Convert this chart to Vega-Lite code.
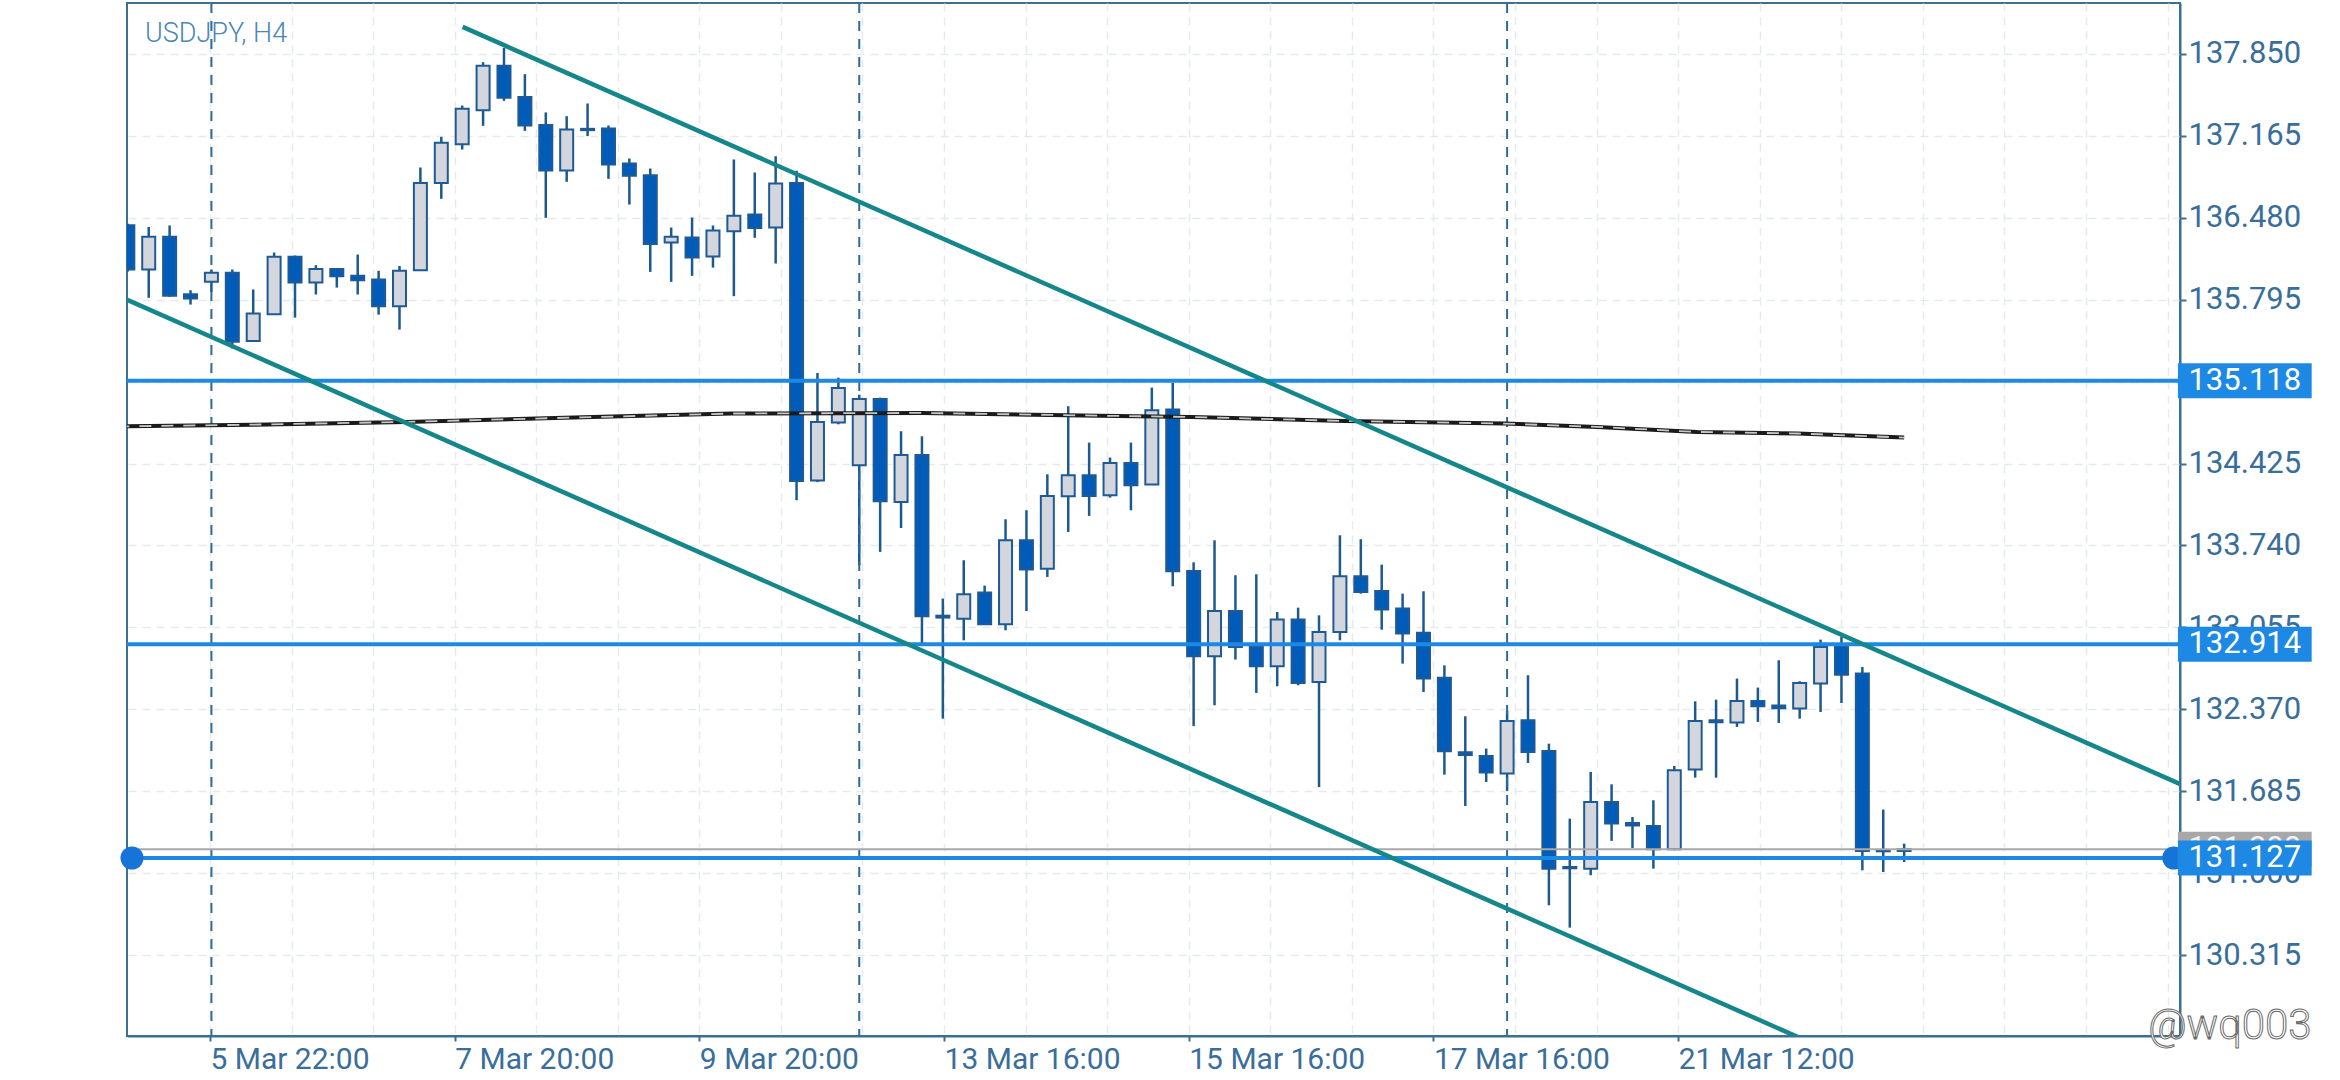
{
  "$schema": "https://vega.github.io/schema/vega-lite/v6.json",
  "width": 2053,
  "height": 1033,
  "autosize": {"type": "none"},
  "padding": {"left": 127, "top": 3, "right": 160, "bottom": 44},
  "background": "white",
  "datasets": {
    "candles": [
      {"i":0,"open":136.417,"high":136.43,"low":136.03,"close":136.047},
      {"i":1,"open":136.047,"high":136.403,"low":135.81,"close":136.32},
      {"i":2,"open":136.32,"high":136.415,"low":135.818,"close":135.827},
      {"i":3,"open":135.84,"high":135.874,"low":135.754,"close":135.804},
      {"i":4,"open":135.944,"high":136.047,"low":135.86,"close":136.019},
      {"i":5,"open":136.019,"high":136.047,"low":135.386,"close":135.442},
      {"i":6,"open":135.45,"high":135.88,"low":135.445,"close":135.679},
      {"i":7,"open":135.673,"high":136.189,"low":135.67,"close":136.153},
      {"i":8,"open":136.153,"high":136.164,"low":135.645,"close":135.938},
      {"i":9,"open":135.938,"high":136.083,"low":135.838,"close":136.052},
      {"i":10,"open":136.052,"high":136.055,"low":135.896,"close":135.991},
      {"i":11,"open":135.994,"high":136.172,"low":135.838,"close":135.957},
      {"i":12,"open":135.963,"high":136.036,"low":135.67,"close":135.74},
      {"i":13,"open":135.74,"high":136.077,"low":135.545,"close":136.036},
      {"i":14,"open":136.041,"high":136.9,"low":136.035,"close":136.771},
      {"i":15,"open":136.771,"high":137.156,"low":136.638,"close":137.106},
      {"i":16,"open":137.095,"high":137.418,"low":137.05,"close":137.39},
      {"i":17,"open":137.379,"high":137.78,"low":137.248,"close":137.75},
      {"i":18,"open":137.75,"high":137.9,"low":137.457,"close":137.482},
      {"i":19,"open":137.49,"high":137.68,"low":137.206,"close":137.251},
      {"i":20,"open":137.256,"high":137.36,"low":136.479,"close":136.875},
      {"i":21,"open":136.875,"high":137.329,"low":136.78,"close":137.217},
      {"i":22,"open":137.223,"high":137.435,"low":137.162,"close":137.212},
      {"i":23,"open":137.226,"high":137.251,"low":136.805,"close":136.925},
      {"i":24,"open":136.933,"high":136.975,"low":136.59,"close":136.83},
      {"i":25,"open":136.836,"high":136.891,"low":136.027,"close":136.261},
      {"i":26,"open":136.273,"high":136.398,"low":135.944,"close":136.32},
      {"i":27,"open":136.314,"high":136.482,"low":135.994,"close":136.147},
      {"i":28,"open":136.156,"high":136.415,"low":136.063,"close":136.373},
      {"i":29,"open":136.367,"high":136.967,"low":135.824,"close":136.496},
      {"i":30,"open":136.507,"high":136.858,"low":136.312,"close":136.395},
      {"i":31,"open":136.398,"high":136.994,"low":136.097,"close":136.766},
      {"i":32,"open":136.771,"high":136.872,"low":134.118,"close":134.279},
      {"i":33,"open":134.282,"high":135.182,"low":134.27,"close":134.773},
      {"i":34,"open":134.767,"high":135.143,"low":134.753,"close":135.057},
      {"i":35,"open":134.41,"high":135.0,"low":133.574,"close":134.965},
      {"i":36,"open":134.965,"high":134.976,"low":133.686,"close":134.109},
      {"i":37,"open":134.104,"high":134.695,"low":133.886,"close":134.497},
      {"i":38,"open":134.497,"high":134.653,"low":132.919,"close":133.148},
      {"i":39,"open":133.153,"high":133.296,"low":132.292,"close":133.137},
      {"i":40,"open":133.128,"high":133.616,"low":132.947,"close":133.332},
      {"i":41,"open":133.346,"high":133.404,"low":133.075,"close":133.081},
      {"i":42,"open":133.081,"high":133.959,"low":133.031,"close":133.783},
      {"i":43,"open":133.783,"high":134.034,"low":133.192,"close":133.538},
      {"i":44,"open":133.546,"high":134.335,"low":133.477,"close":134.154},
      {"i":45,"open":134.151,"high":134.904,"low":133.853,"close":134.327},
      {"i":46,"open":134.327,"high":134.6,"low":133.987,"close":134.154},
      {"i":47,"open":134.16,"high":134.475,"low":134.14,"close":134.43},
      {"i":48,"open":134.43,"high":134.6,"low":134.034,"close":134.243},
      {"i":49,"open":134.249,"high":135.06,"low":134.245,"close":134.87},
      {"i":50,"open":134.876,"high":135.099,"low":133.399,"close":133.524},
      {"i":51,"open":133.527,"high":133.599,"low":132.23,"close":132.813},
      {"i":52,"open":132.813,"high":133.783,"low":132.404,"close":133.192},
      {"i":53,"open":133.192,"high":133.491,"low":132.786,"close":132.891},
      {"i":54,"open":132.891,"high":133.499,"low":132.507,"close":132.73},
      {"i":55,"open":132.73,"high":133.184,"low":132.563,"close":133.12},
      {"i":56,"open":133.12,"high":133.22,"low":132.571,"close":132.591},
      {"i":57,"open":132.599,"high":133.156,"low":131.72,"close":133.017},
      {"i":58,"open":133.017,"high":133.825,"low":132.947,"close":133.482},
      {"i":59,"open":133.482,"high":133.792,"low":133.337,"close":133.351},
      {"i":60,"open":133.36,"high":133.58,"low":133.036,"close":133.204},
      {"i":61,"open":133.212,"high":133.337,"low":132.752,"close":133.003},
      {"i":62,"open":133.011,"high":133.357,"low":132.515,"close":132.627},
      {"i":63,"open":132.635,"high":132.738,"low":131.824,"close":132.019},
      {"i":64,"open":132.011,"high":132.312,"low":131.562,"close":131.989},
      {"i":65,"open":131.98,"high":132.042,"low":131.763,"close":131.841},
      {"i":66,"open":131.833,"high":132.357,"low":131.688,"close":132.273},
      {"i":67,"open":132.279,"high":132.655,"low":131.922,"close":132.014},
      {"i":68,"open":132.022,"high":132.083,"low":130.732,"close":131.038},
      {"i":69,"open":131.052,"high":131.456,"low":130.545,"close":131.041},
      {"i":70,"open":131.038,"high":131.847,"low":130.983,"close":131.596},
      {"i":71,"open":131.596,"high":131.743,"low":131.27,"close":131.415},
      {"i":72,"open":131.42,"high":131.47,"low":131.211,"close":131.398},
      {"i":73,"open":131.395,"high":131.61,"low":131.038,"close":131.2},
      {"i":74,"open":131.2,"high":131.897,"low":131.192,"close":131.861},
      {"i":75,"open":131.866,"high":132.437,"low":131.799,"close":132.273},
      {"i":76,"open":132.279,"high":132.451,"low":131.799,"close":132.262},
      {"i":77,"open":132.259,"high":132.627,"low":132.223,"close":132.44},
      {"i":78,"open":132.44,"high":132.552,"low":132.265,"close":132.396},
      {"i":79,"open":132.401,"high":132.78,"low":132.256,"close":132.379},
      {"i":80,"open":132.376,"high":132.605,"low":132.292,"close":132.591},
      {"i":81,"open":132.585,"high":132.953,"low":132.348,"close":132.892},
      {"i":82,"open":132.897,"high":132.975,"low":132.423,"close":132.66},
      {"i":83,"open":132.669,"high":132.724,"low":131.024,"close":131.186},
      {"i":84,"open":131.194,"high":131.532,"low":131.01,"close":131.183},
      {"i":85,"open":131.186,"high":131.247,"low":131.094,"close":131.2}
    ],
    "ma": [
      {"i":-0.5,"v":134.735},
      {"i":6,"v":134.75},
      {"i":13.3,"v":134.773},
      {"i":22.7,"v":134.815},
      {"i":28.9,"v":134.843},
      {"i":38,"v":134.848},
      {"i":46.5,"v":134.825},
      {"i":50.9,"v":134.814},
      {"i":58.2,"v":134.781},
      {"i":65.9,"v":134.759},
      {"i":70.3,"v":134.731},
      {"i":75.1,"v":134.689},
      {"i":79.9,"v":134.676},
      {"i":85,"v":134.642}
    ],
    "trend": [
      {"g":"upper","i":16.02,"v":138.075},
      {"g":"upper","i":98.6,"v":131.715},
      {"g":"lower","i":-0.6,"v":135.838},
      {"g":"lower","i":81,"v":129.547}
    ],
    "seps": [{"i":4},{"i":35},{"i":66}],
    "levels": [{"p":135.118},{"p":132.914},{"p":131.127}],
    "current": [{"p":131.2}],
    "handles": [{"i":0.2},{"i":97.9}]
  },
  "layer": [
    {
      "data": {"name": "candles"},
      "mark": {"type": "rule", "stroke": "#1c5a8e", "strokeWidth": 2.5, "clip": true},
      "encoding": {
        "x": {"field": "i", "type": "quantitative", "scale": {"domain": [0.2, 97.96], "nice": false, "zero": false},
          "axis": {"orient": "bottom", "title": null,
            "values": [3.93,7.833,11.736,15.639,19.542,23.445,27.348,31.251,35.154,39.057,42.96,46.863,50.766,54.669,58.572,62.475,66.378,70.281,74.184,78.087,81.99,85.893,89.796,93.699,97.602],
            "labelExpr": "(round((datum.value - 3.93) / 3.903) % 3 == 0) ? (['5 Mar 22:00','7 Mar 20:00','9 Mar 20:00','13 Mar 16:00','15 Mar 16:00','17 Mar 16:00','21 Mar 12:00'][round((datum.value - 3.93) / 11.709)] || '') : ''",
            "grid": true, "gridColor": "#e6eaee", "gridDash": [8, 6], "gridWidth": 1.5,
            "domainColor": "#3d6f8f", "domainWidth": 2,
            "tickColor": "#3d6f8f", "tickSize": 5, "tickWidth": 2,
            "tickOpacity": {"condition": {"test": "round((datum.value - 3.93) / 3.903) % 3 == 0 && datum.value < 75", "value": 1}, "value": 0},
            "labelColor": "#3a6e9a", "labelFont": "Roboto", "labelFontSize": 30, "labelAlign": "left", "labelBaseline": "top", "labelPadding": 3,
            "labelOverlap": false, "labelFlush": false, "labelBound": false}},
        "y": {"field": "low", "type": "quantitative", "scale": {"domain": [129.639, 138.275], "nice": false, "zero": false},
          "axis": {"orient": "right", "title": null,
            "values": [130.315,131,131.685,132.37,133.055,133.74,134.425,135.11,135.795,136.48,137.165,137.85],
            "format": ".3f",
            "grid": true, "gridColor": "#e6eaee", "gridDash": [8, 6], "gridWidth": 1.5,
            "domainColor": "#3d6f8f", "domainWidth": 2,
            "tickColor": "#3d6f8f", "tickSize": 6, "tickWidth": 2,
            "labelColor": "#3a6e9a", "labelFont": "Roboto", "labelFontSize": 31, "labelPadding": 2, "labelBaseline": "middle",
            "labelOverlap": false, "labelFlush": false, "labelBound": false}},
        "y2": {"field": "high"}
      }
    },
    {
      "data": {"name": "seps"},
      "mark": {"type": "rule", "stroke": "#2e6b95", "strokeWidth": 2, "strokeDash": [10, 8]},
      "encoding": {
        "x": {"field": "i", "type": "quantitative", "scale": {"domain": [0.2, 97.96], "nice": false, "zero": false}}
      }
    },
    {
      "data": {"name": "candles"},
      "mark": {"type": "bar", "size": 13, "stroke": "#1f5a95", "strokeWidth": 2, "clip": true},
      "encoding": {
        "x": {"field": "i", "type": "quantitative", "scale": {"domain": [0.2, 97.96], "nice": false, "zero": false}},
        "y": {"field": "open", "type": "quantitative", "scale": {"domain": [129.639, 138.275], "nice": false, "zero": false}},
        "y2": {"field": "close"},
        "fill": {"condition": {"test": "datum.close > datum.open", "value": "#d3d7dd"}, "value": "#005cb8"}
      }
    },
    {
      "data": {"name": "ma"},
      "mark": {"type": "line", "stroke": "#1b1b1b", "strokeWidth": 4, "clip": true},
      "encoding": {
        "x": {"field": "i", "type": "quantitative", "scale": {"domain": [0.2, 97.96], "nice": false, "zero": false}},
        "y": {"field": "v", "type": "quantitative", "scale": {"domain": [129.639, 138.275], "nice": false, "zero": false}}
      }
    },
    {
      "data": {"name": "ma"},
      "mark": {"type": "line", "stroke": "#c6c6c6", "strokeWidth": 1.8, "strokeDash": [12, 10], "clip": true},
      "encoding": {
        "x": {"field": "i", "type": "quantitative", "scale": {"domain": [0.2, 97.96], "nice": false, "zero": false}},
        "y": {"field": "v", "type": "quantitative", "scale": {"domain": [129.639, 138.275], "nice": false, "zero": false}}
      }
    },
    {
      "data": {"name": "current"},
      "mark": {"type": "rule", "stroke": "#a9a9a9", "strokeWidth": 2},
      "encoding": {
        "y": {"field": "p", "type": "quantitative", "scale": {"domain": [129.639, 138.275], "nice": false, "zero": false}}
      }
    },
    {
      "data": {"name": "levels"},
      "mark": {"type": "rule", "stroke": "#1e88e5", "strokeWidth": 4},
      "encoding": {
        "y": {"field": "p", "type": "quantitative", "scale": {"domain": [129.639, 138.275], "nice": false, "zero": false}}
      }
    },
    {
      "data": {"name": "trend"},
      "mark": {"type": "line", "stroke": "#15878a", "strokeWidth": 4.5, "clip": true},
      "encoding": {
        "x": {"field": "i", "type": "quantitative", "scale": {"domain": [0.2, 97.96], "nice": false, "zero": false}},
        "y": {"field": "v", "type": "quantitative", "scale": {"domain": [129.639, 138.275], "nice": false, "zero": false}},
        "detail": {"field": "g"}
      }
    },
    {
      "data": {"name": "handles"},
      "mark": {"type": "point", "shape": "circle", "filled": true, "size": 530, "color": "#1674d8", "opacity": 1},
      "encoding": {
        "x": {"field": "i", "type": "quantitative", "scale": {"domain": [0.2, 97.96], "nice": false, "zero": false}},
        "y": {"datum": 131.127, "type": "quantitative", "scale": {"domain": [129.639, 138.275], "nice": false, "zero": false}}
      }
    },
    {
      "data": {"name": "current"},
      "mark": {"type": "rect", "height": 35, "fill": "#a8a8a8"},
      "encoding": {
        "x": {"datum": 98.1, "type": "quantitative", "scale": {"domain": [0.2, 97.96], "nice": false, "zero": false}},
        "x2": {"datum": 104.5},
        "y": {"field": "p", "type": "quantitative", "scale": {"domain": [129.639, 138.275], "nice": false, "zero": false}}
      }
    },
    {
      "data": {"name": "current"},
      "mark": {"type": "text", "font": "Roboto", "fontSize": 31, "color": "#f2f2f2", "align": "center", "baseline": "middle"},
      "encoding": {
        "x": {"datum": 101.3, "type": "quantitative", "scale": {"domain": [0.2, 97.96], "nice": false, "zero": false}},
        "y": {"field": "p", "type": "quantitative", "scale": {"domain": [129.639, 138.275], "nice": false, "zero": false}},
        "text": {"field": "p", "type": "quantitative", "format": ".3f"}
      }
    },
    {
      "data": {"name": "levels"},
      "mark": {"type": "rect", "height": 35, "fill": "#1e88e5"},
      "encoding": {
        "x": {"datum": 98.1, "type": "quantitative", "scale": {"domain": [0.2, 97.96], "nice": false, "zero": false}},
        "x2": {"datum": 104.5},
        "y": {"field": "p", "type": "quantitative", "scale": {"domain": [129.639, 138.275], "nice": false, "zero": false}}
      }
    },
    {
      "data": {"name": "levels"},
      "mark": {"type": "text", "font": "Roboto", "fontSize": 31, "color": "#ffffff", "align": "center", "baseline": "middle"},
      "encoding": {
        "x": {"datum": 101.3, "type": "quantitative", "scale": {"domain": [0.2, 97.96], "nice": false, "zero": false}},
        "y": {"field": "p", "type": "quantitative", "scale": {"domain": [129.639, 138.275], "nice": false, "zero": false}},
        "text": {"field": "p", "type": "quantitative", "format": ".3f"}
      }
    },
    {
      "data": {"values": [{"t": "USDJPY, H4"}]},
      "mark": {"type": "text", "font": "Roboto", "fontSize": 27, "fontWeight": 300, "color": "#4a86b8", "align": "left", "baseline": "alphabetic"},
      "encoding": {
        "x": {"datum": 0.82, "type": "quantitative", "scale": {"domain": [0.2, 97.96], "nice": false, "zero": false}},
        "y": {"datum": 137.947, "type": "quantitative", "scale": {"domain": [129.639, 138.275], "nice": false, "zero": false}},
        "text": {"field": "t"}
      }
    },
    {
      "data": {"values": [{"t": "@wq003"}]},
      "mark": {"type": "text", "font": "Roboto", "fontSize": 42, "fontWeight": 300, "fill": "#ffffff", "stroke": "#6a6a6a", "strokeWidth": 1, "align": "left", "baseline": "alphabetic"},
      "encoding": {
        "x": {"datum": 96.68, "type": "quantitative", "scale": {"domain": [0.2, 97.96], "nice": false, "zero": false}},
        "y": {"datum": 129.611, "type": "quantitative", "scale": {"domain": [129.639, 138.275], "nice": false, "zero": false}},
        "text": {"field": "t"}
      }
    }
  ],
  "config": {
    "view": {"stroke": "#3d6f8f", "strokeWidth": 2},
    "font": "Roboto"
  }
}
